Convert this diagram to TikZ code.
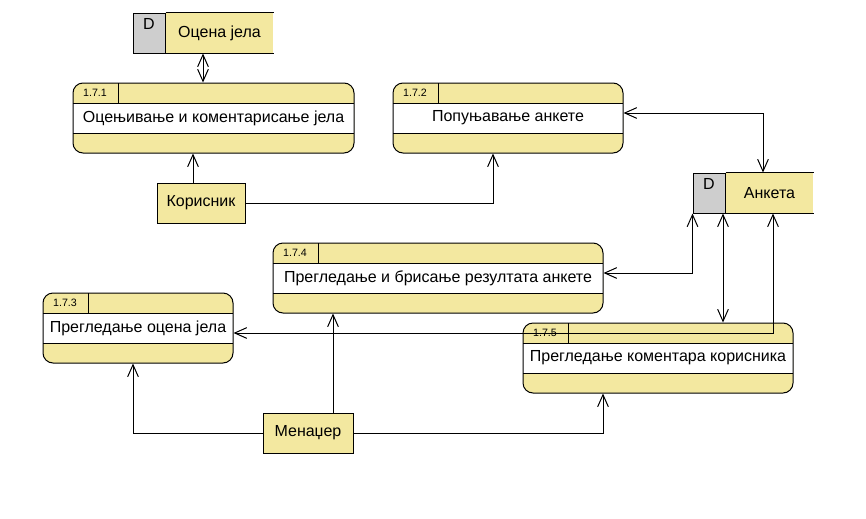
\documentclass[tikz,border=0pt]{standalone}
\usepackage{fontspec}
\setmainfont{Liberation Sans}
\usetikzlibrary{arrows.meta, positioning}
\definecolor{dfdYellow}{RGB}{243,232,160}
\definecolor{dfdGray}{RGB}{206,206,206}

\begin{document}
\begin{tikzpicture}[
    x=0.75pt, y=-0.75pt,
    line width=0.75pt,
    procBox/.style={
        rectangle,
        draw,
        rounded corners=7.5pt,
        fill=dfdYellow,
        minimum height=52.5pt,
        inner sep=0pt,
        align=center,
        font=\fontsize{12}{14}\selectfont,
        path picture={
            \fill[white, sharp corners] ([yshift=-15pt]path picture bounding box.north west) rectangle ([yshift=15pt]path picture bounding box.south east);
            \draw[sharp corners] ([yshift=-15pt]path picture bounding box.north west) -- ([yshift=-15pt]path picture bounding box.north east);
            \draw[sharp corners] ([yshift=15pt]path picture bounding box.south west) -- ([yshift=15pt]path picture bounding box.south east);
            \draw[sharp corners] ([xshift=33.75pt]path picture bounding box.north west) -- ([xshift=33.75pt,yshift=-15pt]path picture bounding box.north west);
        }
    },
    idText/.style={inner sep=0pt, font=\fontsize{8}{9}\selectfont},
    storeTag/.style={
        rectangle,
        draw,
        fill=dfdGray,
        minimum width=24pt,
        minimum height=30pt,
        inner sep=0pt,
        text height=8.6pt,
        text depth=13.9pt,
        font=\fontsize{12}{14}\selectfont
    },
    storeBox/.style={
        rectangle,
        fill=dfdYellow,
        minimum height=30pt,
        inner sep=0pt,
        font=\fontsize{12}{14}\selectfont
    },
    entityBox/.style={
        rectangle,
        draw,
        fill=dfdYellow,
        minimum height=30pt,
        inner sep=0pt,
        font=\fontsize{12}{14}\selectfont
    },
    flowArrow/.style={-{Straight Barb[length=9pt, width=8pt]}},
    biFlowArrow/.style={{Straight Barb[length=9pt, width=8pt]}-{Straight Barb[length=9pt, width=8pt]}}
]
    \useasboundingbox (0,0) rectangle (866,518);

    % Processes
    \node[procBox, minimum width=210.75pt] (p171) at (213.5,118) {Оцењивање и коментарисање јела};
    \node[procBox, minimum width=172.5pt] (p172) at (508,118) {Попуњавање анкете};
    \node[procBox, minimum width=142.5pt] (p173) at (138,328) {Прегледање оцена јела};
    \node[procBox, minimum width=247.5pt] (p174) at (438,278) {Прегледање и брисање резултата анкете};
    \node[procBox, minimum width=202.5pt] (p175) at (658,358) {Прегледање коментара корисника};

    % Process numbers
    \node[idText] (p171id) at ([xshift=16.875pt, yshift=-7.5pt]p171.north west) {1.7.1};
    \node[idText] (p172id) at ([xshift=16.875pt, yshift=-7.5pt]p172.north west) {1.7.2};
    \node[idText] (p173id) at ([xshift=16.875pt, yshift=-7.5pt]p173.north west) {1.7.3};
    \node[idText] (p174id) at ([xshift=16.875pt, yshift=-7.5pt]p174.north west) {1.7.4};
    \node[idText] (p175id) at ([xshift=16.875pt, yshift=-7.5pt]p175.north west) {1.7.5};

    % Data stores
    \node[storeTag] (s1tag) at (149,33) {D};
    \node[storeBox, minimum width=80.25pt, right=0pt of s1tag] (s1) {Оцена јела};
    \node[storeTag] (s2tag) at (709,193) {D};
    \node[storeBox, minimum width=65.25pt, right=0pt of s2tag] (s2) {Анкета};
    \draw (s1tag.north east) -- (s1.north east);
    \draw (s1tag.south east) -- (s1.south east);
    \draw (s2tag.north east) -- (s2.north east);
    \draw (s2tag.south east) -- (s2.south east);

    % External entities
    \node[entityBox, minimum width=66pt] (kor) at (201,203) {Корисник};
    \node[entityBox, minimum width=67.5pt] (men) at (308,433) {Менаџер};

    % Data flows
    \draw[biFlowArrow] (203,0 |- s1.south) -- (203,0 |- p171.north);
    \draw[flowArrow] (193,0 |- kor.north) -- (193,0 |- p171.south);
    \draw[flowArrow] (kor.east) -| (493,0 |- p172.south);
    \draw[biFlowArrow] (p172.east |- 0,113) -| (763,0 |- s2.north);
    \draw[biFlowArrow] (p174.east |- 0,273) -| (s2tag.south west);
    \draw[biFlowArrow] (723,0 |- s2.south) -- (723,0 |- p175.north);
    \draw[biFlowArrow] (p173.east |- 0,333) -| (773,0 |- s2.south);
    \draw[flowArrow] (men.west) -| (133,0 |- p173.south);
    \draw[flowArrow] (333,0 |- men.north) -- (333,0 |- p174.south);
    \draw[flowArrow] (men.east) -| (603,0 |- p175.south);
\end{tikzpicture}
\end{document}
